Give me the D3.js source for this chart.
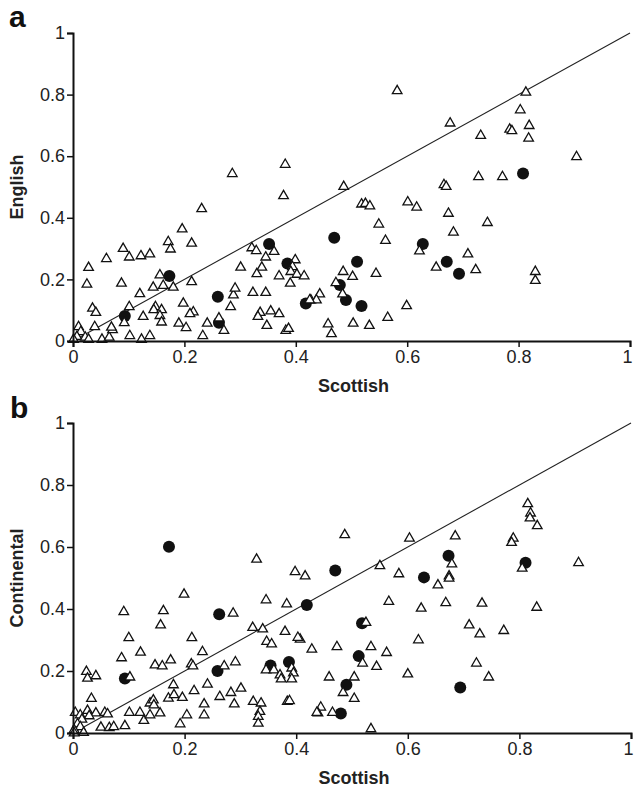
<!DOCTYPE html>
<html>
<head>
<meta charset="utf-8">
<script src="https://cdn.jsdelivr.net/npm/d3@7"></script>
<style>
  body { margin: 0; background: #fff; }
  svg { display: block; font-family: "Liberation Sans", Arial, sans-serif; }
  .axis path, .axis line { stroke: #111; }
  .axis text { font-size: 18px; fill: #222; }
  .label { font-size: 18px; font-weight: bold; fill: #222; }
  .panel-letter { font-size: 30px; font-weight: bold; fill: #111; }
</style>
</head>
<body>
<div class="chart"></div>
<script>
// Data ---------------------------------------------------------------------
const tickValues = [0, 0.2, 0.4, 0.6, 0.8, 1];
const xLabel = "Scottish";
const yLabelA = "English";
const yLabelB = "Continental";

// panel a: [Scottish, English]
const trianglesA = [
  [0.286,0.543],[0.381,0.573],[0.582,0.812],[0.813,0.807],[0.677,0.707],[0.803,0.750],[0.819,0.699],
  [0.784,0.687],[0.788,0.682],[0.732,0.667],[0.818,0.658],[0.904,0.598],[0.728,0.533],[0.771,0.533],
  [0.486,0.501],[0.666,0.507],[0.670,0.501],[0.518,0.444],[0.525,0.446],[0.533,0.438],[0.601,0.451],
  [0.617,0.434],[0.674,0.414],[0.549,0.379],[0.744,0.384],[0.683,0.353],[0.561,0.326],[0.622,0.292],
  [0.709,0.282],[0.652,0.239],[0.723,0.231],[0.485,0.225],[0.544,0.219],[0.502,0.209],[0.472,0.189],
  [0.484,0.152],[0.443,0.152],[0.427,0.133],[0.437,0.133],[0.599,0.114],[0.565,0.076],[0.458,0.055],
  [0.503,0.057],[0.532,0.050],[0.464,0.023],[0.830,0.225],[0.830,0.196],
  [0.378,0.471],[0.231,0.429],[0.196,0.363],[0.171,0.322],[0.175,0.298],[0.213,0.317],[0.090,0.300],
  [0.101,0.272],[0.122,0.276],[0.138,0.282],[0.060,0.267],[0.028,0.238],[0.025,0.184],[0.087,0.187],
  [0.120,0.153],[0.156,0.214],[0.144,0.174],[0.162,0.180],[0.180,0.174],[0.213,0.192],[0.198,0.122],
  [0.216,0.094],[0.210,0.088],[0.148,0.111],[0.145,0.101],[0.159,0.101],[0.156,0.082],[0.159,0.061],
  [0.126,0.079],[0.101,0.111],[0.092,0.059],[0.035,0.106],[0.041,0.092],[0.039,0.046],[0.010,0.046],
  [0.014,0.030],[0.007,0.014],[0.001,0.005],[0.022,0.012],[0.028,0.005],[0.052,0.005],[0.065,0.012],
  [0.071,0.036],[0.069,0.044],[0.102,0.017],[0.123,0.005],[0.138,0.017],[0.190,0.057],[0.203,0.043],
  [0.233,0.017],[0.241,0.057],[0.262,0.074],[0.271,0.034],[0.283,0.111],[0.288,0.149],[0.291,0.171],
  [0.301,0.239],[0.321,0.302],[0.329,0.293],[0.346,0.272],[0.361,0.290],[0.339,0.239],[0.330,0.218],
  [0.370,0.211],[0.399,0.263],[0.394,0.241],[0.391,0.225],[0.402,0.216],[0.415,0.211],[0.390,0.187],
  [0.323,0.157],[0.346,0.157],[0.336,0.092],[0.332,0.079],[0.355,0.097],[0.370,0.088],[0.348,0.050],
  [0.382,0.034],[0.387,0.040],[0.425,0.133]
];
const circlesA = [
  [0.093,0.081],[0.173,0.211],[0.260,0.144],[0.262,0.059],[0.352,0.315],[0.385,0.252],[0.418,0.122],
  [0.469,0.335],[0.510,0.257],[0.479,0.182],[0.490,0.133],[0.518,0.114],[0.628,0.315],[0.671,0.257],
  [0.693,0.218],[0.808,0.544]
];

// panel b: [Scottish, Continental]
const trianglesB = [
  [0.329,0.560],[0.398,0.520],[0.416,0.506],[0.199,0.447],[0.346,0.429],[0.383,0.416],[0.487,0.639],
  [0.603,0.628],[0.685,0.635],[0.815,0.739],[0.820,0.709],[0.819,0.693],[0.832,0.668],[0.789,0.628],
  [0.786,0.614],[0.550,0.539],[0.584,0.513],[0.679,0.545],[0.674,0.506],[0.674,0.499],[0.654,0.477],
  [0.805,0.531],[0.906,0.549],[0.566,0.424],[0.624,0.402],[0.668,0.420],[0.733,0.418],[0.831,0.405],
  [0.525,0.356],[0.710,0.348],[0.729,0.319],[0.772,0.330],[0.619,0.300],[0.407,0.302],[0.428,0.270],
  [0.473,0.278],[0.534,0.278],[0.562,0.259],[0.519,0.225],[0.544,0.214],[0.723,0.225],[0.600,0.190],
  [0.459,0.180],[0.504,0.180],[0.745,0.180],[0.484,0.130],[0.504,0.111],[0.444,0.083],[0.439,0.064],
  [0.465,0.066],[0.534,0.013],
  [0.091,0.391],[0.162,0.394],[0.157,0.348],[0.287,0.386],[0.322,0.340],[0.340,0.335],[0.380,0.327],
  [0.403,0.308],[0.347,0.295],[0.356,0.287],[0.100,0.307],[0.213,0.307],[0.121,0.260],[0.087,0.242],
  [0.175,0.235],[0.232,0.262],[0.147,0.219],[0.160,0.216],[0.212,0.222],[0.215,0.216],[0.271,0.216],
  [0.291,0.229],[0.102,0.180],[0.024,0.198],[0.026,0.176],[0.041,0.184],[0.033,0.111],[0.004,0.066],
  [0.013,0.058],[0.026,0.072],[0.041,0.064],[0.029,0.055],[0.057,0.066],[0.062,0.061],[0.016,0.044],
  [0.008,0.029],[0.013,0.020],[0.002,0.010],[0.019,0.001],[0.002,0.000],[0.050,0.018],[0.065,0.017],
  [0.073,0.020],[0.093,0.023],[0.101,0.066],[0.120,0.066],[0.127,0.040],[0.138,0.096],[0.144,0.106],
  [0.145,0.090],[0.138,0.058],[0.156,0.064],[0.171,0.112],[0.180,0.155],[0.181,0.123],[0.196,0.114],
  [0.192,0.029],[0.204,0.058],[0.217,0.136],[0.235,0.093],[0.235,0.058],[0.241,0.157],[0.263,0.117],
  [0.283,0.130],[0.289,0.093],[0.301,0.144],[0.323,0.101],[0.337,0.096],[0.335,0.069],[0.332,0.053],
  [0.332,0.031],[0.346,0.203],[0.360,0.203],[0.371,0.187],[0.373,0.174],[0.384,0.101],[0.388,0.104],
  [0.392,0.209],[0.395,0.193],[0.392,0.174],[0.437,0.066]
];
const circlesB = [
  [0.093,0.176],[0.172,0.601],[0.262,0.383],[0.259,0.200],[0.354,0.218],[0.387,0.229],[0.419,0.413],
  [0.470,0.524],[0.480,0.063],[0.490,0.156],[0.512,0.248],[0.518,0.354],[0.629,0.502],[0.673,0.572],
  [0.694,0.147],[0.811,0.549]
];

// identity line
const refLine = [[0, 0], [1, 1]];

// SVG ---------------------------------------------------------------------
const width = 634;
const height = 789;

const svg = d3.select(".chart")
  .append("svg")
  .attr("width", width)
  .attr("height", height);

const triangle = d3.symbol().type(d3.symbolTriangle).size(40);

function drawPanel(opts) {
  const xScale = d3.scaleLinear().domain([0, 1]).range([opts.left, opts.right]);
  const yScale = d3.scaleLinear().domain([0, 1]).range([opts.bottom, opts.top]);

  const g = svg.append("g");

  // reference line
  const line = d3.line()
    .x(d => xScale(d[0]))
    .y(d => yScale(d[1]));
  g.append("path")
    .datum(refLine)
    .attr("d", line)
    .attr("fill", "none")
    .attr("stroke", "#222")
    .attr("stroke-width", 1.1);

  // circles first, triangles drawn over them
  g.selectAll(".dot")
    .data(opts.circles)
    .join("circle")
    .attr("class", "dot")
    .attr("cx", d => xScale(d[0]))
    .attr("cy", d => yScale(d[1]))
    .attr("r", 6)
    .attr("fill", "#111");

  g.selectAll(".tri")
    .data(opts.triangles)
    .join("path")
    .attr("class", "tri")
    .attr("d", triangle)
    .attr("transform", d => `translate(${xScale(d[0])},${yScale(d[1])})`)
    .attr("fill", "#fff")
    .attr("stroke", "#111")
    .attr("stroke-width", 1.3);

  // axes
  const xAxis = d3.axisBottom(xScale)
    .tickValues(tickValues)
    .tickSize(6)
    .tickPadding(3)
    .tickFormat(d3.format("~g"));
  const xg = g.append("g")
    .attr("class", "axis")
    .attr("transform", `translate(0,${opts.bottom})`)
    .call(xAxis);

  // keep the last label inside the page
  xg.selectAll(".tick text")
    .filter(d => d === 1)
    .attr("dx", -3);

  const yAxis = d3.axisLeft(yScale)
    .tickValues(tickValues)
    .tickSize(6)
    .tickPadding(2)
    .tickFormat(d3.format("~g"));
  const yg = g.append("g")
    .attr("class", "axis")
    .attr("transform", `translate(${opts.left},0)`)
    .call(yAxis);

  [xg, yg].forEach(a => {
    a.select(".domain").attr("stroke-width", 2);
    a.selectAll(".tick line").attr("stroke-width", 1.5);
    a.selectAll("text").attr("font-family", null).attr("font-size", null);
  });

  // titles
  g.append("text")
    .attr("class", "label")
    .attr("x", (opts.left + opts.right) / 2 + 2)
    .attr("y", opts.bottom + 51)
    .attr("text-anchor", "middle")
    .text(xLabel);

  g.append("text")
    .attr("class", "label")
    .attr("transform", `translate(23,${(opts.top + opts.bottom) / 2}) rotate(-90)`)
    .attr("text-anchor", "middle")
    .text(opts.yLabel);

  g.append("text")
    .attr("class", "panel-letter")
    .attr("x", opts.letterX)
    .attr("y", opts.letterY)
    .text(opts.letter);
}

drawPanel({
  left: 73, right: 630, top: 33, bottom: 341,
  triangles: trianglesA, circles: circlesA,
  yLabel: yLabelA, letter: "a", letterX: 9, letterY: 27
});

drawPanel({
  left: 73, right: 631, top: 423, bottom: 733,
  triangles: trianglesB, circles: circlesB,
  yLabel: yLabelB, letter: "b", letterX: 10, letterY: 418
});
</script>
</body>
</html>
